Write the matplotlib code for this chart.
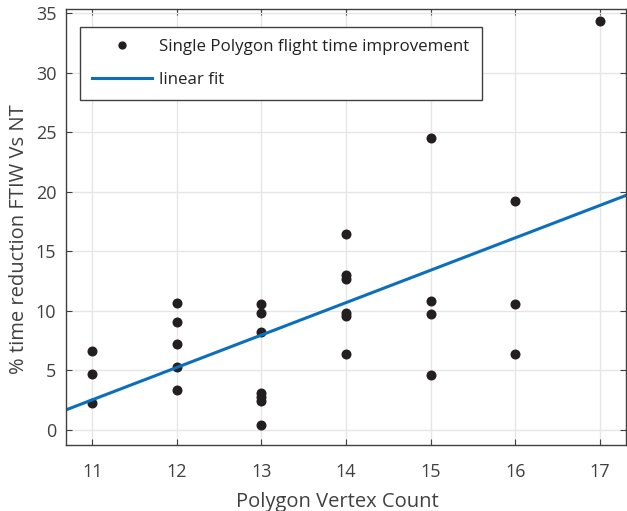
import numpy as np
import matplotlib
matplotlib.use("Agg")
import matplotlib.pyplot as plt

plt.rcParams['font.family'] = ['Open Sans', 'DejaVu Sans']

# vertex count and % time reduction for each polygon
vertex_count = [11, 11, 11,
                12, 12, 12, 12, 12,
                13, 13, 13, 13, 13, 13, 13,
                14, 14, 14, 14, 14, 14,
                15, 15, 15, 15,
                16, 16, 16,
                17]
time_reduction = [6.56, 4.63, 2.25,
                  10.6, 9.05, 7.17, 5.25, 3.34,
                  10.57, 9.82, 8.22, 3.11, 2.71, 2.37, 0.40,
                  16.45, 13.02, 12.62, 9.82, 9.56, 6.37,
                  24.47, 10.82, 9.71, 4.57,
                  19.19, 10.59, 6.39,
                  34.3]

x = np.array(vertex_count, dtype=float)
y = np.array(time_reduction)
p = np.polyfit(x, y, 1)

fig = plt.figure(figsize=(6.27, 5.11), dpi=100)
ax = fig.add_axes([66/627, 66/511, 560/627, 436/511])

xlim = (10.69, 17.31)
xf = np.array(xlim)
ax.plot(x, y, 'o', color='#231f20', markersize=6.2, label='Single Polygon flight time improvement')
ax.plot(xf, np.polyval(p, xf), color='#0b6fbd', linewidth=2.2, label='linear fit')

ax.set_xlim(*xlim)
ax.set_ylim(-1.3, 35.35)
ax.set_xticks(range(11, 18))
ax.set_yticks(range(0, 36, 5))
ax.grid(True, color='#e6e6e6', linewidth=1)
ax.set_axisbelow(True)
ax.tick_params(direction='in', top=True, right=True, length=4, colors='#404040',
               labelsize=13)
ax.tick_params(axis='x', pad=13)
ax.tick_params(axis='y', pad=7)
for s in ax.spines.values():
    s.set_color('#404040')
    s.set_linewidth(1)

ax.set_xlabel('Polygon Vertex Count', fontsize=14.5, color='#404040', labelpad=8)
ax.set_ylabel('% time reduction FTIW Vs NT', fontsize=14.5, color='#404040', labelpad=5)
ax.xaxis.label.set_x(0.485)
ax.yaxis.label.set_y(0.473)

leg = ax.legend(loc='upper left', bbox_to_anchor=(14/560, 1 - 18/436), fontsize=12.2,
                fancybox=False, edgecolor='#404040', framealpha=1, markerscale=0.8,
                handlelength=3.5, borderpad=0.72, labelspacing=0.98, handletextpad=0.45,
                borderaxespad=0)
leg.get_frame().set_linewidth(1)
for t in leg.get_texts():
    t.set_color('#222222')

fig.savefig('out.png', dpi=100)
